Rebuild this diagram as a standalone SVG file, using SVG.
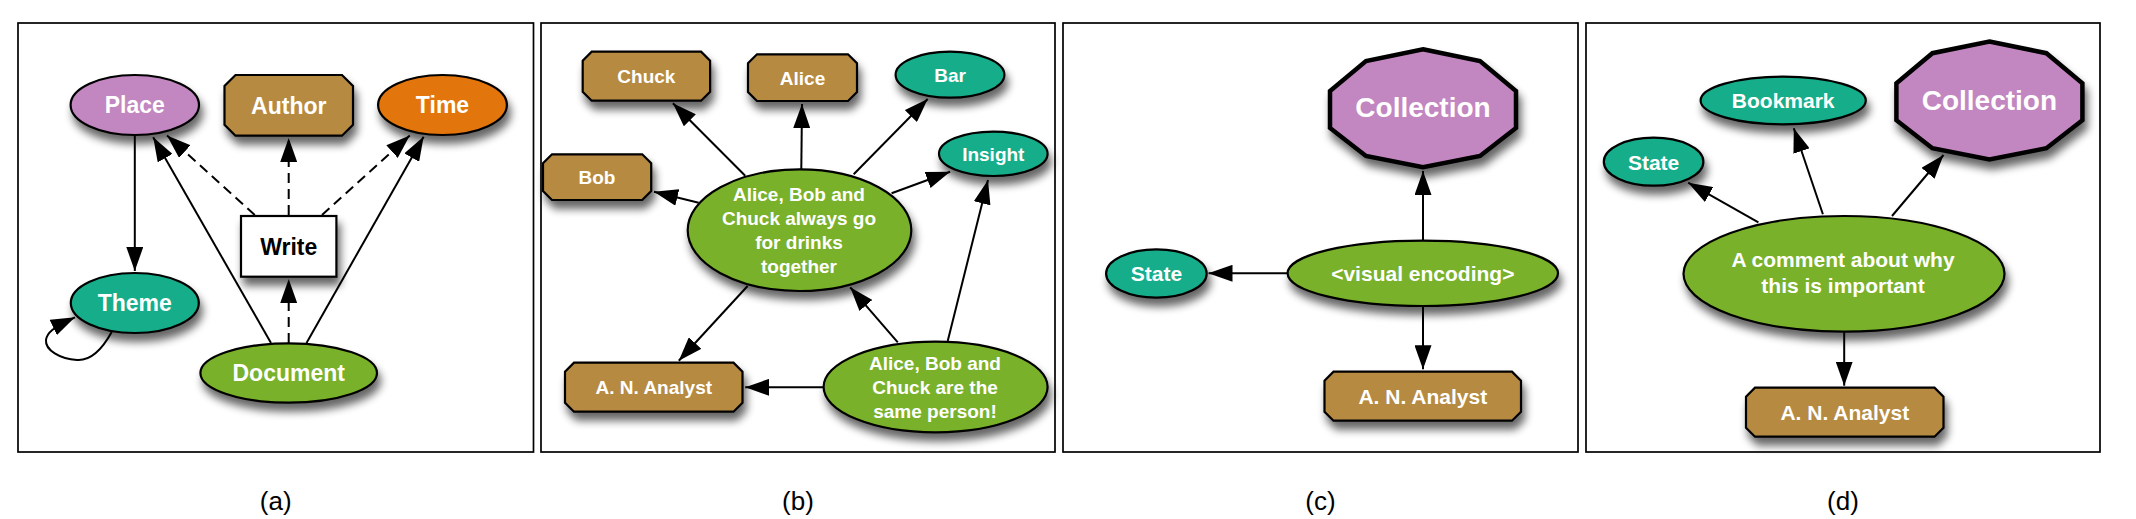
<svg xmlns="http://www.w3.org/2000/svg" width="2136" height="519" viewBox="0 0 2136 519">
<defs>
<filter id="sh" x="-30%" y="-30%" width="160%" height="180%">
<feGaussianBlur in="SourceAlpha" stdDeviation="4.5"/>
<feOffset dx="3" dy="8" result="b"/>
<feComponentTransfer><feFuncA type="linear" slope="0.6"/></feComponentTransfer>
<feMerge><feMergeNode/><feMergeNode in="SourceGraphic"/></feMerge>
</filter>
<marker id="arr" viewBox="0 0 24 17" refX="24" refY="8.5" markerWidth="24" markerHeight="17" markerUnits="userSpaceOnUse" orient="auto">
<path d="M0,0 L24,8.5 L0,17 z" fill="#000"/>
</marker>
<style>
.frame{fill:#fff;stroke:#000;stroke-width:1.7}
.n{stroke:#000;stroke-width:2.2;filter:url(#sh)}
.heavy{stroke-width:4.5;stroke-linejoin:miter}
.pur{fill:#C286C0}.brn{fill:#B68A40}.org{fill:#E2760A}.teal{fill:#17AD8A}.grn{fill:#79B12A}.wht{fill:#fff}
.e{stroke:#000;stroke-width:2;fill:none;marker-end:url(#arr)}
.dash{stroke-dasharray:10 6}
.t{font-family:"Liberation Sans",Arial,Helvetica,sans-serif;font-weight:bold;fill:#fff;text-anchor:middle}
.a23{font-size:23px}.a19{font-size:19px}.a21{font-size:21px}.a28{font-size:28px}
.dark{fill:#000}
.lab{font-family:"Liberation Sans",Arial,Helvetica,sans-serif;font-size:26px;text-anchor:middle;fill:#000}
</style>
</defs>
<rect width="2136" height="519" fill="#fff"/>
<g id="frames">
<rect class="frame" x="18" y="23" width="515.5" height="429"/>
<rect class="frame" x="541" y="23" width="514" height="429"/>
<rect class="frame" x="1063" y="23" width="515" height="429"/>
<rect class="frame" x="1586" y="23" width="514" height="429"/>
</g>

<g id="connectors">
<!-- panel a -->
<line class="e" x1="134.8" y1="135" x2="134.8" y2="271"/>
<path class="e" d="M111.7,332 C104,346 92,361 77,360 C60,359 45,350 46,340 C47,333 52,328 75,317.3"/>
<line class="e" x1="271" y1="343" x2="153.2" y2="137.3"/>
<line class="e" x1="306.5" y1="343" x2="423.6" y2="136.7"/>
<line class="e dash" x1="288.7" y1="343" x2="288.7" y2="279"/>
<line class="e dash" x1="254.8" y1="215" x2="167" y2="135.5"/>
<line class="e dash" x1="288.7" y1="215" x2="288.7" y2="138"/>
<line class="e dash" x1="322" y1="215" x2="409.8" y2="135.5"/>
<!-- panel b -->
<line class="e" x1="745.2" y1="175.7" x2="672.9" y2="103.3"/>
<line class="e" x1="801.3" y1="169" x2="802" y2="104"/>
<line class="e" x1="853.7" y1="174.3" x2="927.7" y2="99"/>
<line class="e" x1="891.6" y1="193.3" x2="950.1" y2="171.7"/>
<line class="e" x1="698.7" y1="202.7" x2="654" y2="191.7"/>
<line class="e" x1="747.6" y1="286" x2="678.8" y2="360.7"/>
<line class="e" x1="823.7" y1="387.3" x2="745.2" y2="387.3"/>
<line class="e" x1="897.8" y1="342.3" x2="850.2" y2="287.3"/>
<line class="e" x1="947.7" y1="341" x2="988" y2="180"/>
<!-- panel c -->
<line class="e" x1="1423" y1="240.7" x2="1423" y2="171"/>
<line class="e" x1="1287.6" y1="273.3" x2="1208.5" y2="273.3"/>
<line class="e" x1="1423" y1="306" x2="1423" y2="369.3"/>
<!-- panel d -->
<line class="e" x1="1758.4" y1="222.3" x2="1688.2" y2="182.7"/>
<line class="e" x1="1822.9" y1="214.3" x2="1793.8" y2="128.3"/>
<line class="e" x1="1892" y1="216" x2="1943.5" y2="155"/>
<line class="e" x1="1844.2" y1="332.3" x2="1844.2" y2="385.7"/>
</g>

<!-- Panel (a) nodes -->
<g id="a-place"><ellipse class="n pur" cx="134.8" cy="105" rx="64.2" ry="30"/><text class="t a23" x="134.8" y="113.3">Place</text></g>
<g id="a-author"><polygon class="n brn" points="235.5,75 342,75 353,86 353,124.7 342,135.7 235.5,135.7 224.5,124.7 224.5,86"/><text class="t a23" x="288.8" y="113.5">Author</text></g>
<g id="a-time"><ellipse class="n org" cx="442.5" cy="105" rx="64.4" ry="30"/><text class="t a23" x="442.5" y="113.3">Time</text></g>
<g id="a-write"><rect class="n wht" x="241" y="216" width="95.4" height="60.7"/><text class="t a23 dark" x="288.7" y="254.5">Write</text></g>
<g id="a-theme"><ellipse class="n teal" cx="134.8" cy="303" rx="64" ry="30"/><text class="t a23" x="134.8" y="311.3">Theme</text></g>
<g id="a-document"><ellipse class="n grn" cx="288.7" cy="373" rx="88.3" ry="29.7"/><text class="t a23" x="288.7" y="381.3">Document</text></g>

<!-- Panel (b) nodes -->
<g id="b-chuck"><polygon class="n brn" points="591.7,51.7 701.1,51.7 710.1,60.7 710.1,91.7 701.1,100.7 591.7,100.7 582.7,91.7 582.7,60.7"/><text class="t a19" x="646.4" y="83">Chuck</text></g>
<g id="b-alice"><polygon class="n brn" points="757,54.3 848,54.3 857,63.3 857,92 848,101 757,101 748,92 748,63.3"/><text class="t a19" x="802.5" y="84.5">Alice</text></g>
<g id="b-bar"><ellipse class="n teal" cx="950" cy="74.7" rx="54.4" ry="23"/><text class="t a19" x="950" y="81.5">Bar</text></g>
<g id="b-insight"><ellipse class="n teal" cx="993.3" cy="153.8" rx="54.3" ry="22.2"/><text class="t a19" x="993.3" y="160.5">Insight</text></g>
<g id="b-bob"><polygon class="n brn" points="552,154.3 642.2,154.3 651.2,163.3 651.2,191 642.2,200 552,200 543,191 543,163.3"/><text class="t a19" x="597" y="184">Bob</text></g>
<g id="b-drinks"><ellipse class="n grn" cx="799.5" cy="230.2" rx="111.8" ry="60.8"/><text class="t a19" x="799" y="201">Alice, Bob and</text><text class="t a19" x="799" y="225">Chuck always go</text><text class="t a19" x="799" y="249">for drinks</text><text class="t a19" x="799" y="273">together</text></g>
<g id="b-analyst"><polygon class="n brn" points="574,362.7 733.5,362.7 742.5,371.7 742.5,402.7 733.5,411.7 574,411.7 565,402.7 565,371.7"/><text class="t a19" x="653.8" y="394">A. N. Analyst</text></g>
<g id="b-same"><ellipse class="n grn" cx="935.6" cy="387" rx="112" ry="45.3"/><text class="t a19" x="935" y="370">Alice, Bob and</text><text class="t a19" x="935" y="394">Chuck are the</text><text class="t a19" x="935" y="418">same person!</text></g>

<!-- Panel (c) nodes -->
<g id="c-collection"><polygon class="n pur heavy" points="1423,49.3 1480,61 1516,91 1516,128 1480,156 1423,167.3 1366,156 1330,128 1330,91 1366,61"/><text class="t a28" x="1423" y="117">Collection</text></g>
<g id="c-state"><ellipse class="n teal" cx="1156.4" cy="273.5" rx="50.3" ry="24.2"/><text class="t a21" x="1156.4" y="281">State</text></g>
<g id="c-encoding"><ellipse class="n grn" cx="1422.8" cy="273.3" rx="135.2" ry="32.7"/><text class="t a21" x="1422.8" y="281">&lt;visual encoding&gt;</text></g>
<g id="c-analyst"><polygon class="n brn" points="1333.5,371.7 1512,371.7 1521,380.7 1521,411.7 1512,420.7 1333.5,420.7 1324.5,411.7 1324.5,380.7"/><text class="t a21" x="1422.8" y="404">A. N. Analyst</text></g>

<!-- Panel (d) nodes -->
<g id="d-state"><ellipse class="n teal" cx="1653.6" cy="161.7" rx="49.8" ry="24"/><text class="t a21" x="1653.6" y="169.5">State</text></g>
<g id="d-bookmark"><ellipse class="n teal" cx="1783.2" cy="100.5" rx="82.6" ry="23.8"/><text class="t a21" x="1783.2" y="108.3">Bookmark</text></g>
<g id="d-collection"><polygon class="n pur heavy" points="1989.4,41.5 2046.4,53.2 2082.4,83.2 2082.4,120.2 2046.4,148.2 1989.4,159.5 1932.4,148.2 1896.4,120.2 1896.4,83.2 1932.4,53.2"/><text class="t a28" x="1989.4" y="109.5">Collection</text></g>
<g id="d-comment"><ellipse class="n grn" cx="1844" cy="273.8" rx="160.5" ry="57.8"/><text class="t a21" x="1843" y="267">A comment about why</text><text class="t a21" x="1843" y="293">this is important</text></g>
<g id="d-analyst"><polygon class="n brn" points="1755,387.7 1934.5,387.7 1943.5,396.7 1943.5,427.7 1934.5,436.7 1755,436.7 1746,427.7 1746,396.7"/><text class="t a21" x="1844.8" y="420">A. N. Analyst</text></g>

<g id="labels">
<text class="lab" x="275.7" y="510">(a)</text>
<text class="lab" x="798" y="510">(b)</text>
<text class="lab" x="1320.5" y="510">(c)</text>
<text class="lab" x="1843" y="510">(d)</text>
</g>
</svg>
